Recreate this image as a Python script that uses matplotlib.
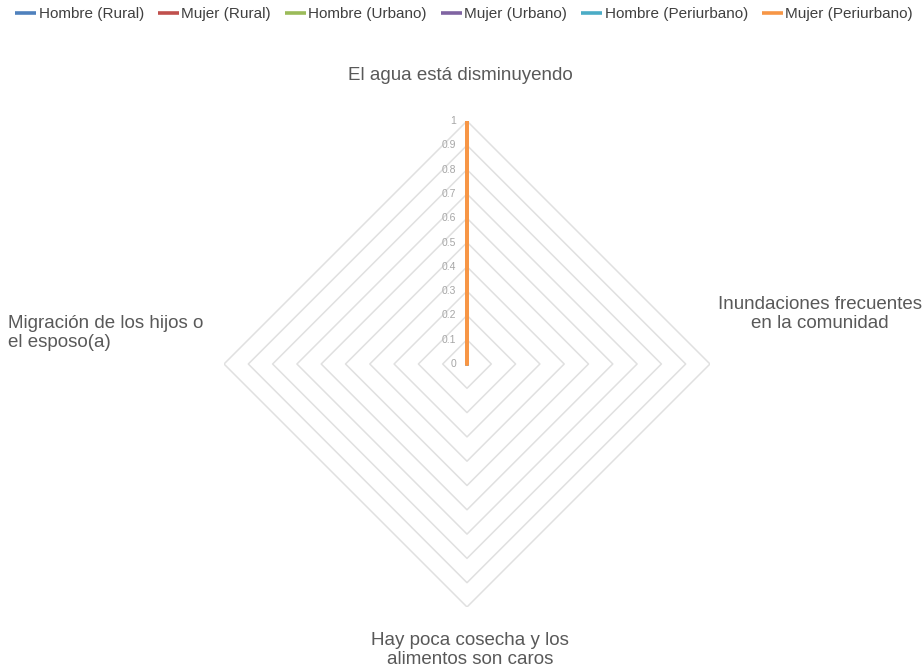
import numpy as np
import matplotlib.pyplot as plt

categories = [
    "El agua está disminuyendo",
    "Inundaciones frecuentes\nen la comunidad",
    "Hay poca cosecha y los\nalimentos son caros",
    "Migración de los hijos o\nel esposo(a)",
]
series_names = [
    "Hombre (Rural)", "Mujer (Rural)", "Hombre (Urbano)",
    "Mujer (Urbano)", "Hombre (Periurbano)", "Mujer (Periurbano)",
]
hombre_rural = [1, 0, 0, 0]
mujer_rural = [1, 0, 0, 0]
hombre_urbano = [1, 0, 0, 0]
mujer_urbano = [1, 0, 0, 0]
hombre_periurbano = [1, 0, 0, 0]
mujer_periurbano = [1, 0, 0, 0]
series_values = [hombre_rural, mujer_rural, hombre_urbano,
                 mujer_urbano, hombre_periurbano, mujer_periurbano]
colors = ["#4F81BD", "#C0504D", "#9BBB59", "#8064A2", "#4BACC6", "#F79646"]
r_ticks = [0, 0.1, 0.2, 0.3, 0.4, 0.5, 0.6, 0.7, 0.8, 0.9, 1]

W, H = 924, 670
plt.rcParams["font.family"] = ["Liberation Sans", "DejaVu Sans"]
fig = plt.figure(figsize=(W / 100, H / 100), dpi=100)

def px(x, y):
    return x / W, 1 - y / H

# polar axes centred on the chart area
cx, cy, rad = 467, 364, 243
ax = fig.add_axes([(cx - rad) / W, (H - cy - rad) / H, 2 * rad / W, 2 * rad / H],
                  projection="polar")
ax.set_theta_zero_location("N")
ax.set_theta_direction(-1)
ax.set_ylim(0, 1)
ax.grid(False)
ax.spines["polar"].set_visible(False)
ax.set_xticks([])
ax.set_yticks([])
ax.patch.set_alpha(0)

n = len(categories)
theta = np.linspace(0, 2 * np.pi, n, endpoint=False)
theta_closed = np.append(theta, theta[0])

# straight-edged rings (diamonds)
for r in r_ticks[1:]:
    ax.plot(theta_closed, [r] * (n + 1), color="#e0e0e0", lw=1.1, zorder=1)

for name, vals, c in zip(series_names, series_values, colors):
    ax.plot(theta_closed, vals + vals[:1], color=c, lw=2.6, label=name,
            solid_capstyle="butt", zorder=3)

for r in r_ticks:
    ax.annotate(f"{r:g}", xy=(0, r), xytext=(-8, 0), textcoords="offset points",
                ha="right", va="center", fontsize=7.5, color="#a6a6a6")

label_color = "#595959"
fs = 13.5
fig.text(*px(460, 75), categories[0], ha="center", va="center",
         fontsize=fs, color=label_color)
fig.text(*px(820, 314), categories[1], ha="center", va="center",
         fontsize=fs, color=label_color, multialignment="center", linespacing=1.2)
fig.text(*px(470, 650), categories[2], ha="center", va="center",
         fontsize=fs, color=label_color, multialignment="center", linespacing=1.2)
fig.text(*px(8, 333), categories[3], ha="left", va="center",
         fontsize=fs, color=label_color, multialignment="left", linespacing=1.2)

handles, labels = ax.get_legend_handles_labels()
fig.legend(handles, labels, loc="center", bbox_to_anchor=px(464, 14), ncol=6,
           frameon=False, fontsize=11, handlelength=1.4, handletextpad=0.15,
           columnspacing=0.9, labelcolor="#404040")

fig.savefig("out.png", dpi=100)
